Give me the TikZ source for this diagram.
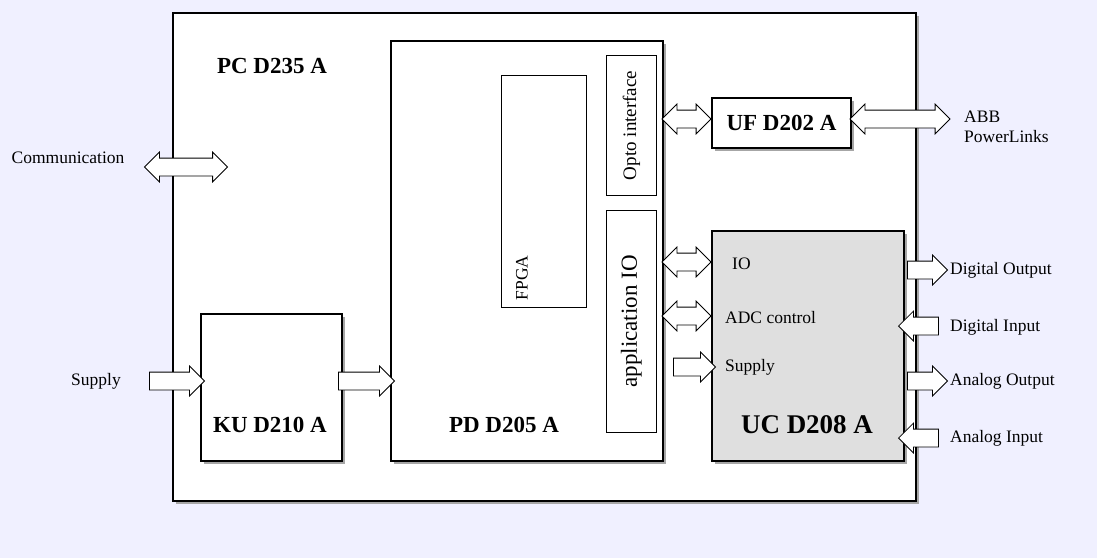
\documentclass[tikz,border=0pt]{standalone}
\usepackage{fontspec}
\setmainfont{Liberation Serif}
\usetikzlibrary{positioning,shapes.arrows,shadows}
\begin{document}
\begin{tikzpicture}
[x=1pt, y=-1pt,
box-a/.style={draw, line width=2pt, fill=white, anchor=north west, inner sep=0pt,
  drop shadow={shadow xshift=3pt, shadow yshift=-3pt, fill=gray!70, opacity=1}},
box-b/.style={draw, line width=0.8pt, fill=white, anchor=north west, inner sep=0pt},
title-a/.style={font=\fontsize{23}{23}\selectfont\bfseries},
text-a/.style={font=\fontsize{17.5}{20}\selectfont, inner sep=0pt},
fat-one/.style={single arrow, draw, line width=0.8pt, fill=white, inner xsep=0pt, inner ysep=8.5pt,
  minimum width=29pt, single arrow head extend=6pt, single arrow head indent=0pt},
fat-two/.style={double arrow, draw, line width=0.8pt, fill=white, inner xsep=0pt, inner ysep=8.5pt,
  minimum width=29pt, double arrow head extend=6pt}
]
\fill [blue!6] (0,0) rectangle (1097,558);
% boards
\node (pc)   [box-a, minimum width=743pt, minimum height=488pt] at (172,12)  {};
\node (pd)   [box-a, minimum width=272pt, minimum height=420pt] at (390,40)  {};
\node (ku)   [box-a, minimum width=141pt, minimum height=147pt] at (200,313) {};
\node (uf)   [box-a, minimum width=139pt, minimum height=50pt]  at (711,97)  {};
\node (uc)   [box-a, fill=gray!25, minimum width=192pt, minimum height=230pt] at (711,230) {};
\node (fpga) [box-b, minimum width=85pt,  minimum height=232pt] at (501,75)  {};
\node (opto) [box-b, minimum width=50pt,  minimum height=140pt] at (606,55)  {};
\node (aio)  [box-b, minimum width=50pt,  minimum height=222pt] at (606,210) {};
% titles
\node (pc-lb) [title-a] at (272,66)  {PC D235 A};
\node (pd-lb) [title-a] at (504,425) {PD D205 A};
\node (ku-lb) [title-a] at (270,425) {KU D210 A};
\node (uc-lb) [title-a, font=\fontsize{27}{27}\selectfont\bfseries] at (807,425) {UC D208 A};
\node (uf-lb) [title-a] at (uf.center) {UF D202 A};
\node (fpga-lb) [text-a, rotate=90] at (522,278) {FPGA};
\node (opto-lb) [text-a, rotate=90, font=\fontsize{19}{19}\selectfont] at (opto.center) {Opto interface};
\node (aio-lb)  [text-a, rotate=90, font=\fontsize{23}{23}\selectfont] at (aio.center) {application IO};
% texts
\node (com-lb) [text-a] at (68,158)  {Communication};
\node (sup-lb) [text-a] at (96,381)  {Supply};
\node (abb-lb) [text-a, anchor=west, align=left] at (964,127) {ABB\\PowerLinks};
\node (io-lb)  [text-a, anchor=west] at (732,264) {IO};
\node (adc-lb) [text-a, anchor=west] at (725,318) {ADC control};
\node (usp-lb) [text-a, anchor=west] at (725,367) {Supply};
\node (do-lb)  [text-a, anchor=west] at (950,270) {Digital Output};
\node (di-lb)  [text-a, anchor=west] at (950,327) {Digital Input};
\node (ao-lb)  [text-a, anchor=west] at (950,381) {Analog Output};
\node (ai-lb)  [text-a, anchor=west] at (950,438) {Analog Input};
% fat arrows
\node (com-ar) [fat-two, minimum height=83pt] at (186,167) {};
\node (uf-ar1) [fat-two, minimum height=49pt] at (686.5,119) {};
\node (uf-ar2) [fat-two, minimum height=100pt] at (900,119) {};
\node (io-ar)  [fat-two, minimum height=49pt] at (686.5,262) {};
\node (adc-ar) [fat-two, minimum height=49pt] at (686.5,316) {};
\node (usp-ar) [fat-one, minimum height=42pt] at (690,367) {};
\node (sup-ar) [fat-one, minimum height=55pt] at (172.5,381) {};
\node (ku-ar)  [fat-one, minimum height=56pt] at (362,381) {};
\node (do-ar)  [fat-one, minimum height=40pt] at (923,270) {};
\node (di-ar)  [fat-one, minimum height=40pt, shape border rotate=180] at (923,326) {};
\node (ao-ar)  [fat-one, minimum height=40pt] at (923,381) {};
\node (ai-ar)  [fat-one, minimum height=40pt, shape border rotate=180] at (923,438) {};
\end{tikzpicture}
\end{document}
